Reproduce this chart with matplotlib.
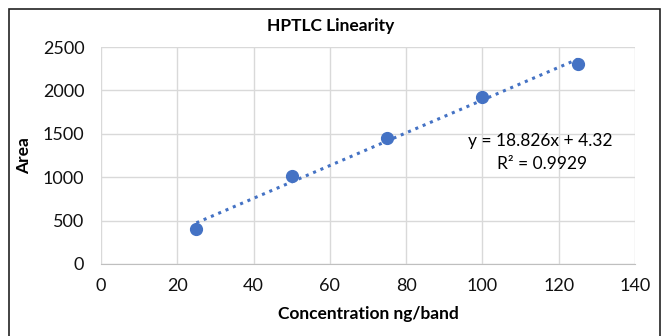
import numpy as np
import matplotlib
matplotlib.use('Agg')
import matplotlib.pyplot as plt
from matplotlib.patches import Rectangle

plt.rcParams['font.family'] = ['Lato', 'DejaVu Sans']

conc = [25, 50, 75, 100, 125]
area = [400, 1010, 1450, 1925, 2300]
equation = 'y = 18.826x + 4.32'
r_squared = 'R² = 0.9929'

blue = '#4472C4'
grid_grey = '#d9d9d9'

fig = plt.figure(figsize=(6.62, 3.36), dpi=100)
ax = fig.add_axes([101 / 662, 1 - 264 / 336, 534 / 662, 217 / 336])

# trendline from a least squares fit
coef = np.polyfit(conc, area, 1)
xs = np.array([conc[0], conc[-1]])
ax.plot(xs, np.polyval(coef, xs), color=blue, linestyle=(0, (1, 1.6)),
        linewidth=2.2, zorder=2)
ax.plot(conc, area, 'o', color=blue, markersize=8.5, zorder=3)

ax.set_xlim(0, 140)
ax.set_ylim(0, 2500)
ax.set_xticks(range(0, 141, 20))
ax.set_yticks(range(0, 2501, 500))
ax.grid(True, color=grid_grey, linewidth=1)
ax.set_axisbelow(True)
for s in ['top', 'right', 'left']:
    ax.spines[s].set_visible(False)
ax.spines['bottom'].set_color('#bfbfbf')
ax.tick_params(length=0, labelsize=13, colors='#111111', pad=10)
ax.tick_params(axis='y', pad=12)

fig.text(331 / 662, 1 - 26 / 336, 'HPTLC Linearity', fontsize=12.5,
         fontweight='bold', ha='center', va='center')
ax.set_xlabel('Concentration ng/band', fontsize=12.5, fontweight='bold', labelpad=9)
ax.set_ylabel('Area', fontsize=12.5, fontweight='bold', labelpad=8)

fig.text(540 / 662, 1 - 141 / 336, equation, fontsize=12.5, ha='center', va='center')
fig.text(542 / 662, 1 - 164 / 336, r_squared, fontsize=12.5, ha='center', va='center')

# outer chart frame
fig.patches.append(Rectangle((9 / 662, -0.05), 651 / 662, 1.05 - 9 / 336,
                             transform=fig.transFigure, fill=False,
                             edgecolor='#222222', linewidth=1.2))

fig.savefig('out.png', dpi=100)
